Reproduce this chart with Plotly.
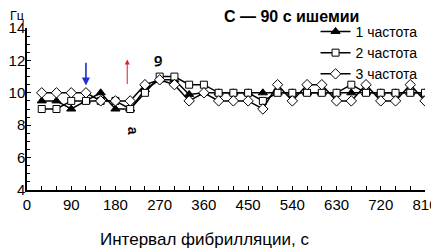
import plotly.graph_objects as go

x_sec = [30, 60, 90, 120, 150, 180, 210, 240, 270, 300, 330, 360, 390, 420,
         450, 480, 510, 540, 570, 600, 630, 660, 690, 720, 750, 780, 810]
freq1 = [9.5, 9.5, 9.0, 9.5, 10.0, 9.0, 9.0, 10.2, 10.8, 10.8, 9.9, 10.0, 10.0, 10.0,
         10.0, 10.0, 10.0, 10.0, 10.0, 10.0, 10.0, 10.0, 10.0, 10.0, 10.0, 10.0, 10.0]
freq2 = [9.0, 9.0, 9.5, 9.5, 9.5, 9.5, 9.0, 10.0, 11.0, 11.0, 10.5, 10.5, 10.0, 10.0,
         10.0, 9.5, 10.0, 10.0, 10.0, 10.0, 10.0, 10.5, 10.0, 10.0, 10.0, 10.0, 10.0]
freq3 = [10.0, 10.0, 10.0, 10.0, 9.5, 9.5, 9.5, 10.5, 10.8, 10.5, 9.5, 10.0, 9.5, 9.5,
         9.5, 9.0, 10.5, 9.5, 10.5, 10.5, 9.5, 9.5, 10.5, 9.5, 9.5, 10.5, 9.5]
names = ["1 частота", "2 частота", "3 частота"]
x_ticks = [0, 90, 180, 270, 360, 450, 540, 630, 720, 810]
y_ticks = [4, 6, 8, 10, 12, 14]

FONT = "Liberation Sans, Arial, sans-serif"

fig = go.Figure()
fig.add_trace(go.Scatter(x=x_sec, y=freq1, name=names[0], mode="lines+markers",
                         line=dict(color="black", width=1.5),
                         marker=dict(symbol="triangle-up", size=8, color="black",
                                     line=dict(color="black", width=1))))
fig.add_trace(go.Scatter(x=x_sec, y=freq2, name=names[1], mode="lines+markers",
                         line=dict(color="black", width=1.5),
                         marker=dict(symbol="square", size=7, color="white",
                                     line=dict(color="black", width=1))))
fig.add_trace(go.Scatter(x=x_sec, y=freq3, name=names[2], mode="lines+markers",
                         line=dict(color="black", width=1.5),
                         marker=dict(symbol="diamond", size=8, color="white",
                                     line=dict(color="black", width=1))))

annotations = [
    dict(x=120, y=10.45, ax=120, ay=11.95, xref="x", yref="y", axref="x", ayref="y",
         showarrow=True, arrowhead=2, arrowsize=1, arrowwidth=1.6, arrowcolor="#1f2fd0", text=""),
    dict(x=204, y=12.05, ax=204, ay=10.45, xref="x", yref="y", axref="x", ayref="y",
         showarrow=True, arrowhead=2, arrowsize=1, arrowwidth=1, arrowcolor="#e02020", text=""),
    dict(x=266, y=11.95, xref="x", yref="y", text="<b>б</b>", showarrow=False, textangle=180,
         font=dict(family=FONT, size=14, color="black")),
    dict(x=216, y=7.65, xref="x", yref="y", text="<b>а</b>", showarrow=False, textangle=90,
         font=dict(family=FONT, size=14, color="black")),
    dict(x=-0.047, y=1.076, xref="paper", yref="paper", xanchor="left", yanchor="middle",
         text="Гц", showarrow=False, font=dict(family=FONT, size=12.5, color="black")),
    dict(x=0.49, y=1.068, xref="paper", yref="paper", xanchor="left", yanchor="middle",
         text="<b>С — 90 с ишемии</b>", showarrow=False,
         font=dict(family=FONT, size=16, color="black")),
    dict(x=0.445, y=-0.305, xref="paper", yref="paper", xanchor="center", yanchor="middle",
         text="Интервал фибрилляции, с", showarrow=False,
         font=dict(family=FONT, size=17, color="black")),
]

# The page body has an 8px margin, so the figure is sized 8px smaller on each axis
fig.update_layout(
    width=431, height=243,
    margin=dict(l=19, r=14, t=20, b=61, autoexpand=False),
    paper_bgcolor="white", plot_bgcolor="white",
    font=dict(family=FONT, color="black"),
    showlegend=True,
    legend=dict(x=0.725, y=1.075, xanchor="left", yanchor="top",
                bgcolor="rgba(0,0,0,0)", font=dict(family=FONT, size=14, color="black"),
                tracegroupgap=0, itemwidth=30),
    annotations=annotations,
)
fig.update_xaxes(range=[0, 810], tickvals=x_ticks, ticktext=[str(v) for v in x_ticks],
                 automargin=False,
                 showline=True, linecolor="black", linewidth=1.5, showgrid=False, zeroline=False,
                 ticks="inside", ticklen=4, tickcolor="black", tickwidth=1,
                 minor=dict(dtick=30, tick0=0, ticks="inside", ticklen=4, tickcolor="black", tickwidth=1),
                 tickfont=dict(family=FONT, size=15, color="black"))
fig.update_yaxes(range=[4, 14], tickvals=y_ticks, ticktext=[str(v) for v in y_ticks],
                 automargin=False, ticklabelstandoff=-3,
                 showline=True, linecolor="black", linewidth=1.5, showgrid=False, zeroline=False,
                 ticks="inside", ticklen=4, tickcolor="black", tickwidth=1,
                 minor=dict(dtick=0.5, tick0=4, ticks="inside", ticklen=3, tickcolor="black", tickwidth=1),
                 tickfont=dict(family=FONT, size=15, color="black"))

fig.write_html("out.html")
